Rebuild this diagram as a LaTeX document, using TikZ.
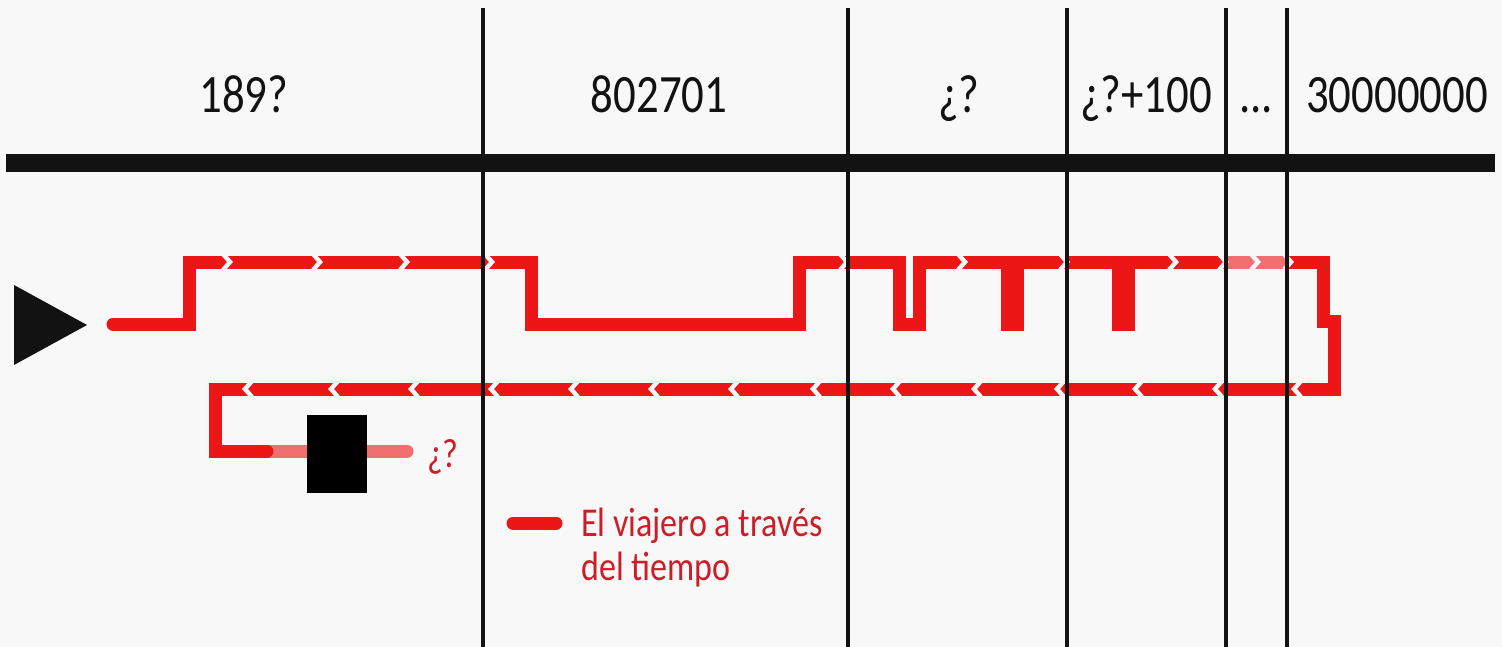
\documentclass[tikz,border=0pt]{standalone}
\usepackage{fontspec}
\setmainfont{Carlito}[FakeStretch=0.83]
\definecolor{bg}{RGB}{248,248,248}
\definecolor{tred}{RGB}{236,22,22}
\definecolor{tpink}{RGB}{240,112,112}
\definecolor{ltred}{RGB}{205,30,40}
\definecolor{ink}{RGB}{18,18,18}
\tikzset{
  redpath/.style={draw=tred, line width=13pt, line cap=round, line join=miter},
  pinkpath/.style={draw=tpink, line width=13pt, line cap=round},
  chev/.style={draw=bg, line width=4.5pt, line cap=butt, line join=miter},
  vline/.style={draw=ink, line width=3.2pt},
  lab/.style={anchor=base, text=ink, inner sep=0pt, font=\fontsize{54}{60}\selectfont},
  legtext/.style={anchor=base west, text=ltred, inner sep=0pt, font=\fontsize{41}{46}\selectfont}
}
\begin{document}
\begin{tikzpicture}[x=1pt,y=-1pt]
\fill[bg] (0,0) rectangle (1502,647);
\useasboundingbox (0,0) rectangle (1502,647);
% header bar
\fill[ink] (6,154) rectangle (1495,172);
% labels
\node[lab] (t1) at (244,113) {189?};
\node[lab] (t2) at (659,113) {802701};
\node[lab] (t3) at (959,113) {¿?};
\node[lab] (t4) at (1146,113) {¿?+100};
\node[lab] (t5) at (1256,113) {...};
\node[lab] (t6) at (1397,113) {30000000};
% start triangle
\fill[ink] (14,285) -- (87,325) -- (14,365) -- cycle;
% pink tail
\draw[pinkpath] (267,451) -- (407,451);
% traveller path
\draw[redpath] (113,324) -- (189,324) -- (189,262) -- (531,262) -- (531,324)
  -- (799,324) -- (799,262) -- (899,262) -- (899,324) -- (919,324) -- (919,262)
  -- (1007,262) -- (1007,324) -- (1017,324) -- (1017,262)
  -- (1118,262) -- (1118,324) -- (1128,324) -- (1128,262)
  -- (1323,262) -- (1323,321) -- (1334,321) -- (1334,389)
  -- (215,389) -- (215,451) -- (267,451);
\draw[draw=tpink, line width=13pt] (1226,262) -- (1288,262);
% chevron gaps
\foreach \x in {228,318,405,490,845,963,1065,1174,1224,1256,1289}
  \draw[chev] (\x-5,254) -- (\x+2,262) -- (\x-5,270);
\foreach \x in {247,333,413,493,573,653,733,815,895,976,1059,1137,1217,1296}
  \draw[chev] (\x+5,381) -- (\x-2,389) -- (\x+5,397);
% black box
\fill[black] (307,415) rectangle (367,493);
\node[anchor=base, text=ltred, inner sep=0pt, font=\fontsize{41}{46}\selectfont] (q) at (443,467) {¿?};
% vertical lines
\foreach \x in {483,848,1067,1226,1287}
  \draw[vline] (\x,8) -- (\x,647);
% legend
\draw[tred, line width=13pt, line cap=round] (513,523) -- (556,523);
\node[legtext] (l1) at (581,536) {El viajero a través};
\node[legtext] (l2) at (581,580) {del tiempo};
\end{tikzpicture}
\end{document}
